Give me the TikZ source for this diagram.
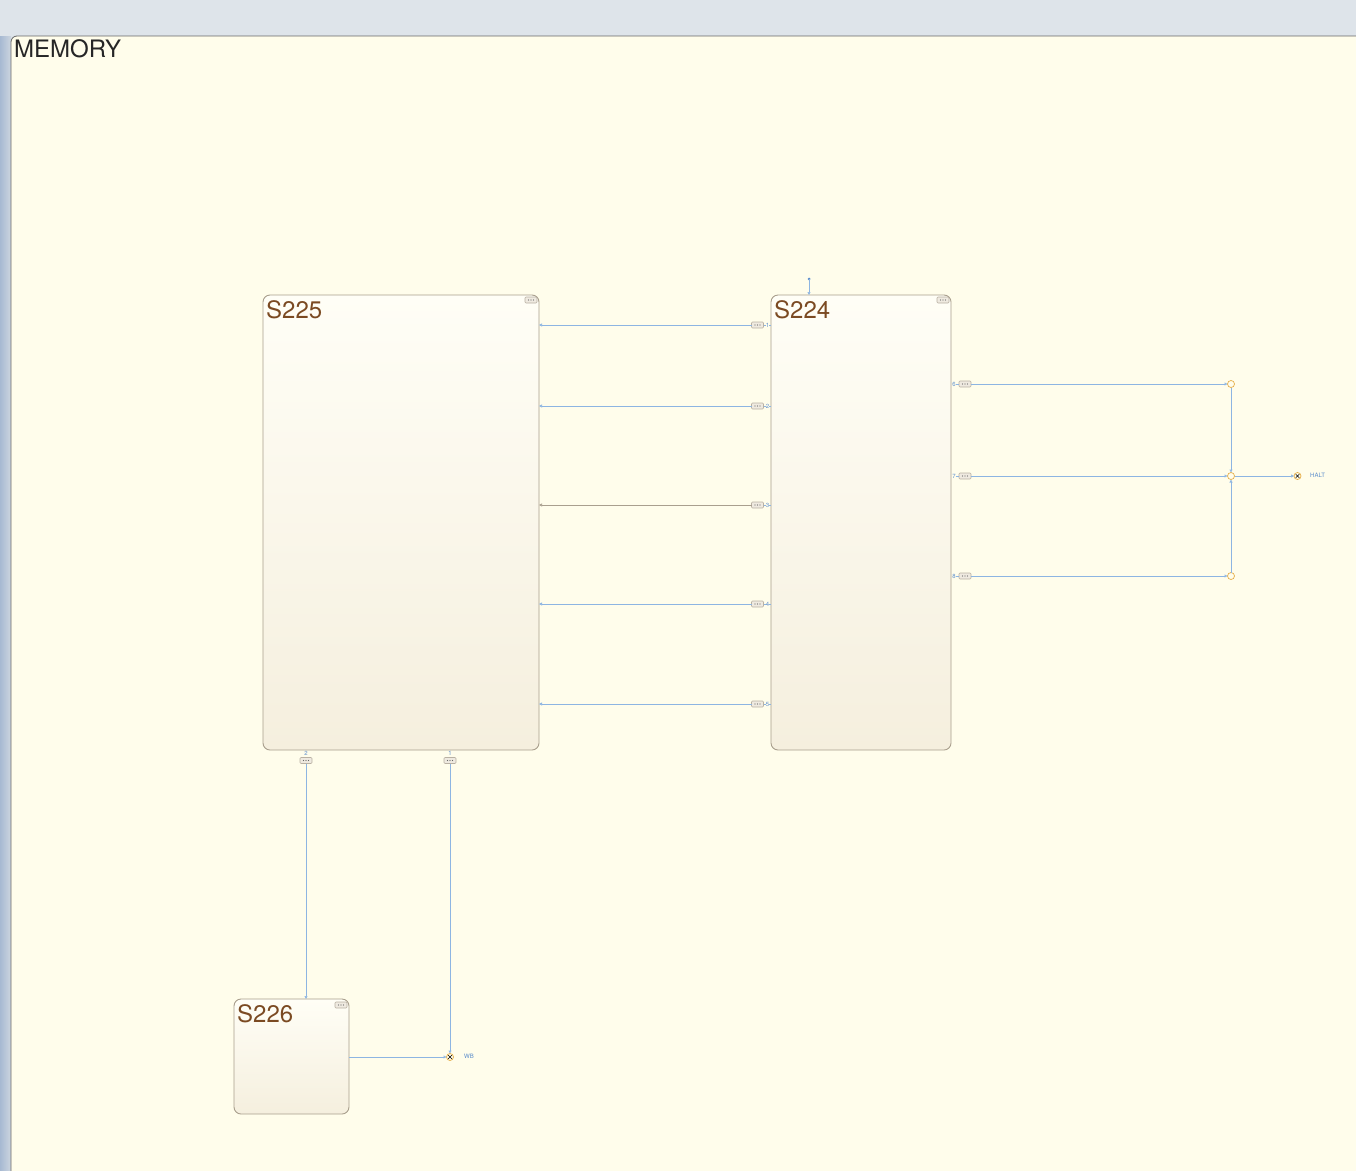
\documentclass[tikz,border=0pt]{standalone}
\usepackage{fontspec}
\setmainfont{TeX Gyre Heros}
\usetikzlibrary{arrows.meta,calc}
\definecolor{chartbg}{HTML}{FFFDEB}
\definecolor{topband}{HTML}{DEE4EA}
\definecolor{stripA}{HTML}{A7B9D2}
\definecolor{stripB}{HTML}{CDD6E0}
\definecolor{boxtop}{HTML}{FFFEF6}
\definecolor{boxbot}{HTML}{F5EFDE}
\definecolor{boxedge}{HTML}{A89E8C}
\definecolor{titlebrown}{HTML}{7B4A22}
\definecolor{connblue}{HTML}{8DB5E2}
\definecolor{conngray}{HTML}{A99F8E}
\definecolor{labblue}{HTML}{5A8CCB}
\definecolor{juncorange}{HTML}{E6AE48}
\definecolor{dotfill}{HTML}{EFEAE0}
\tikzset{
  statebox/.style={draw=boxedge, line width=0.9pt, rounded corners=7pt,
    top color=boxtop, bottom color=boxbot, anchor=north west,
    inner sep=0pt, outer sep=0pt},
  sttitle/.style={anchor=north west, text=titlebrown, font=\fontsize{24}{24}\selectfont,
    inner sep=0pt},
  dotbox/.style={draw=boxedge!80, fill=dotfill, rounded corners=1pt, line width=0.6pt,
    minimum width=12pt, minimum height=6pt, inner sep=0pt, outer sep=0pt,
    path picture={\foreach \dx in {-2.5,0,2.5}{\fill[black!60] ($(path picture bounding box.center)+(\dx pt,0)$) circle (0.55pt);}}},
  conn/.style={draw=connblue, line width=0.7pt},
  tip/.style={-{Triangle[open,length=3pt,width=3pt]}},
  portlab/.style={text=labblue, font=\fontsize{6}{6}\selectfont, inner sep=0pt},
  junc/.style={circle, draw=juncorange, fill=chartbg, line width=0.7pt,
    minimum size=7pt, inner sep=0pt, outer sep=0pt},
  term/.style={circle, draw=juncorange, fill=chartbg, line width=0.7pt,
    minimum size=7pt, inner sep=0pt, outer sep=0pt,
    path picture={\draw[black, line width=0.6pt] ($(path picture bounding box.center)+(-1.8pt,-1.8pt)$) -- ++(3.6pt,3.6pt)
      ($(path picture bounding box.center)+(-1.8pt,1.8pt)$) -- ++(3.6pt,-3.6pt);}},
}
\begin{document}
\begin{tikzpicture}[x=1pt,y=-1pt]
\useasboundingbox (0,0) rectangle (1356,1170);
% window background
\fill[topband] (0,0) rectangle (1356,1170);
\shade[left color=stripA, right color=stripB] (0,36) rectangle (11,1170);
% chart area
\fill[chartbg, rounded corners=6pt] (11,36) rectangle (1370,1185);
\draw[black!60, line width=0.8pt, rounded corners=6pt] (1370,36) -- (11,36) -- (11,1185);
\node[anchor=north west, inner sep=0pt, text=black!85, font=\fontsize{24}{24}\selectfont] (memtitle) at (14,39) {MEMORY};

% states
\node[statebox, minimum width=276pt, minimum height=455pt] (s225) at (263,295) {};
\node[sttitle] (t225) at (266,300) {S225};
\node[dotbox] (d225) at (531,300) {};
\node[statebox, minimum width=180pt, minimum height=455pt] (s224) at (771,295) {};
\node[sttitle] (t224) at (774,300) {S224};
\node[dotbox] (d224) at (943,300) {};
\node[statebox, minimum width=115pt, minimum height=115pt] (s226) at (234,999) {};
\node[sttitle] (t226) at (237,1004) {S226};
\node[dotbox] (d226) at (341,1005) {};

% default transition into S224
\coordinate (def) at (809,279);
\fill[labblue] (def) circle (1.5pt);
\draw[conn, tip] (def) -- (def |- s224.north);

% transitions S224 -> S225
\foreach \i/\y/\c in {1/325/connblue,2/406/connblue,3/505/conngray,4/604/connblue,5/704/connblue}{
  \node[dotbox] (pl\i) at (757.5,\y) {};
  \node[portlab] (ll\i) at (767.5,\y) {\i};
  \draw[conn] (ll\i.east) -- (s224.west |- pl\i);
  \draw[conn] (pl\i.east) -- (ll\i.west);
  \draw[conn, draw=\c, tip] (pl\i.west) -- (s225.east |- pl\i);
}

% right side transitions
\node[junc] (j6) at (1231,384) {};
\node[junc] (j7) at (1231,476) {};
\node[junc] (j8) at (1231,576) {};
\foreach \i/\y in {6/384,7/476,8/576}{
  \node[portlab] (lr\i) at (954,\y) {\i};
  \node[dotbox] (pr\i) at (965,\y) {};
  \draw[conn] (lr\i.east) -- (pr\i.west);
  \draw[conn, tip] (pr\i.east) -- (j\i.west);
}
\draw[conn, tip] (j6.south) -- (j7.north);
\draw[conn, tip] (j8.north) -- (j7.south);
\node[term] (halt) at (1297.5,476) {};
\draw[conn, tip] (j7.east) -- (halt.west);
\node[portlab, anchor=west] (haltlab) at (1310,475) {HALT};

% bottom transitions from S225
\node[portlab] (lb2) at (306,753) {2};
\node[dotbox] (pb2) at (306,760.5) {};
\draw[conn, tip] (pb2.south) -- (pb2 |- s226.north);
\node[portlab] (lb1) at (450,753) {1};
\node[dotbox] (pb1) at (450,760.5) {};
\node[term] (wb) at (450,1057) {};
\draw[conn, tip] (pb1.south) -- (wb.north);
\draw[conn, tip] (s226.east |- wb) -- (wb.west);
\node[portlab, anchor=west] (wblab) at (464,1056) {WB};
\end{tikzpicture}
\end{document}
